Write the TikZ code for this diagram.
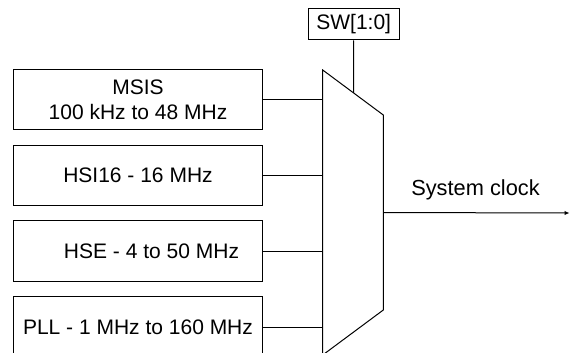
\documentclass[tikz,border=0pt]{standalone}
\usepackage{fontspec}
\setmainfont{Liberation Sans}
\usetikzlibrary{calc,arrows.meta}
\begin{document}
\begin{tikzpicture}[x=1pt,y=-1pt,line join=miter,line width=1pt,>={Latex[length=5pt,width=4.5pt]},
	src/.style={draw,line width=1pt,minimum width=249pt,minimum height=60.5pt,inner sep=0pt,align=center,font=\fontsize{21}{25}\selectfont},
	sel/.style={draw,line width=1pt,minimum width=90.7pt,minimum height=31pt,inner sep=0pt,font=\fontsize{21}{25}\selectfont},
	lbl/.style={inner sep=0pt,font=\fontsize{21.8}{25}\selectfont}]
	\useasboundingbox (0,0) rectangle (570,353);
	\node[src] (msis) at (138,99.7) {MSIS\\100 kHz to 48 MHz};
	\node[src] (hsi) at (138,175.3) {HSI16 - 16 MHz};
	\node[src] (hse) at (138,251) {\hspace*{27pt}HSE - 4 to 50 MHz};
	\node[src] (pll) at (138,327) {PLL - 1 MHz to 160 MHz};
	\coordinate (mtl) at (322.7,70);
	\coordinate (mtr) at (383.3,115);
	\coordinate (mbr) at (383.3,310);
	\coordinate (mbl) at (322.7,355);
	\draw (mtl)--(mtr)--(mbr)--(mbl)--cycle;
	\node[sel] (sw) at (353.7,24.5) {SW[1:0]};
	\coordinate (swin) at ($(mtl)!0.51!(mtr)$);
	\draw (sw.south) -- (swin);
	\draw (msis.east) -- (msis.east -| mtl);
	\draw (hsi.east) -- (hsi.east -| mtl);
	\draw (hse.east) -- (hse.east -| mtl);
	\draw (pll.east) -- (pll.east -| mtl);
	\coordinate (mout) at ($(mtr)!0.5!(mbr)$);
	\coordinate (sysclk) at (569.5,213);
	\draw[->] (mout) -- (sysclk);
	\node[lbl] (syslbl) at (475.5,190) {System clock};
\end{tikzpicture}
\end{document}
